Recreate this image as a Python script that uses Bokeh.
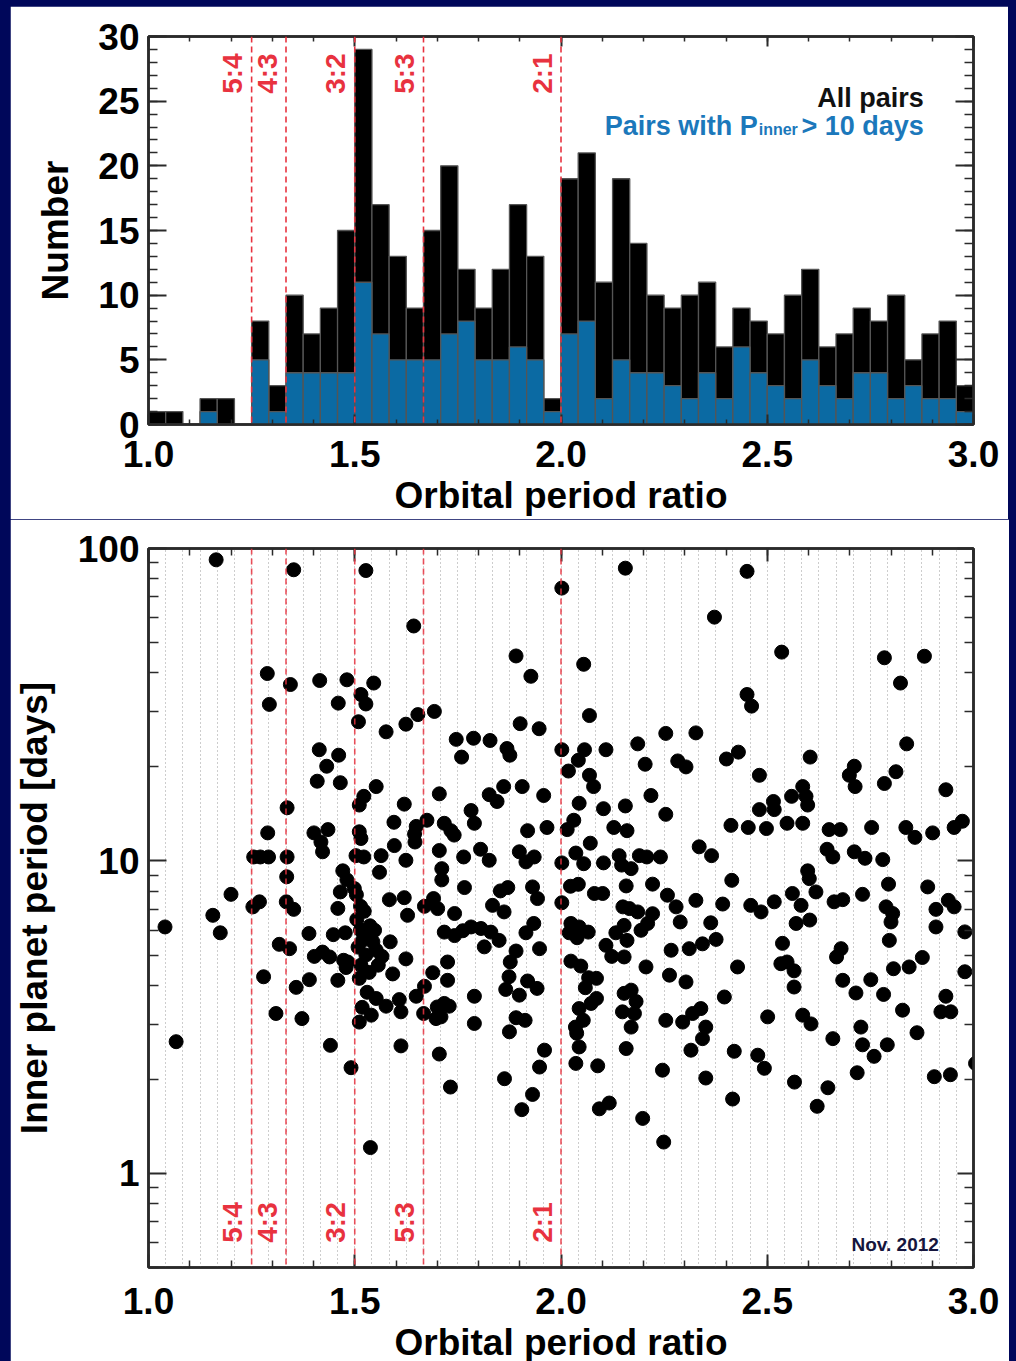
import numpy as np
from bokeh.plotting import figure
from bokeh.layouts import column
from bokeh.models import (Range1d, LinearAxis, LogAxis, SingleIntervalTicker, FixedTicker,
                          PrintfTickFormatter, BasicTickFormatter, Span)
from bokeh.core.properties import value
from bokeh.embed import file_html
from bokeh.resources import INLINE

# ---------------- data ----------------
BIN_START = 1.0
BIN_WIDTH = 1.0 / 24.0          # histogram bin width (period-ratio units)

hist_all = [1, 1, 0, 2, 2, 0, 8, 3, 10, 7, 9, 15, 29, 17, 13, 9, 15, 20, 12, 9, 12, 17, 13, 2,
            19, 21, 11, 19, 14, 10, 9, 10, 11, 6, 9, 8, 7, 10, 12, 6, 7, 9, 8, 10, 5, 7, 8, 3]
hist_long = [0, 0, 0, 1, 0, 0, 5, 1, 4, 4, 4, 4, 11, 7, 5, 5, 5, 7, 8, 5, 5, 6, 5, 1,
             7, 8, 2, 5, 4, 4, 3, 2, 4, 2, 6, 4, 3, 2, 5, 3, 2, 4, 4, 2, 3, 2, 2, 1]

resonance_ratio = [1.25, 4.0 / 3.0, 1.5, 5.0 / 3.0, 2.0]
resonance_label = ["5:4", "4:3", "3:2", "5:3", "2:1"]

y_ticks_hist = [0, 5, 10, 15, 20, 25, 30]
y_ticks_log = [1, 10, 100]
y_minor_log = [0.5, 0.6, 0.7, 0.8, 0.9, 2, 3, 4, 5, 6, 7, 8, 9, 20, 30, 40, 50, 60, 70, 80, 90]

pair_ratio = [
    1.164, 1.352, 1.527, 1.643, 1.891, 1.927, 2.002, 1.288, 1.293, 1.344, 1.415, 1.481, 1.546, 1.515,
    1.527, 1.460, 1.509, 1.576, 1.624, 1.653, 1.693, 1.901, 1.947, 1.746, 1.788, 1.828, 1.759, 1.869,
    1.876, 2.002, 1.414, 1.461, 1.432, 1.409, 1.465, 1.522, 1.552, 1.511, 1.620, 1.705, 1.826, 1.845,
    1.861, 1.906, 1.958, 1.336, 1.595, 1.675, 1.717, 1.733, 1.741, 1.782, 1.790, 1.649, 1.645, 1.646,
    1.289, 1.401, 1.435, 1.418, 1.422, 1.511, 1.515, 1.919, 1.966, 1.596, 1.705, 1.711, 1.805, 1.899,
    1.915, 1.935, 1.255, 1.271, 1.291, 1.336, 1.503, 1.522, 1.564, 1.624, 1.764, 1.826, 2.002, 1.335,
    1.471, 1.481, 1.560, 1.711,
    2.156, 2.451, 2.372, 2.535, 2.784, 2.881, 2.823, 2.055, 2.451, 2.462, 2.069, 2.254, 2.327, 2.186,
    2.838, 2.057, 2.109, 2.042, 2.018, 2.204, 2.283, 2.303, 2.401, 2.430, 2.604, 2.481, 2.069, 2.079,
    2.711, 2.699, 2.713, 2.812, 2.784, 2.933, 2.044, 2.103, 2.156, 2.218, 2.254, 2.559, 2.586, 2.594,
    2.598, 2.515, 2.517, 2.481, 2.015, 2.031, 2.128, 2.160, 2.071, 2.412, 2.454, 2.498, 2.548, 2.586,
    2.650, 2.677, 2.753, 2.836, 2.858, 2.901, 2.953, 2.973, 2.335, 2.365, 2.645, 2.659, 2.711, 2.737,
    2.780, 2.036, 2.055, 2.103, 2.141, 2.147, 2.170, 2.190, 2.208, 2.241, 2.598, 2.602, 2.414,
    1.200, 1.156, 1.174, 1.040, 1.253, 1.269, 1.334, 1.352, 1.317, 1.342, 1.279, 1.309, 1.372, 1.358,
    1.390, 1.389, 1.402, 1.422, 1.439, 1.448, 1.459, 1.465, 1.499, 1.514, 1.477, 1.483, 1.473, 1.479,
    1.459, 1.514, 1.519, 1.531, 1.544, 1.552, 1.515, 1.511, 1.557, 1.586, 1.592, 1.624, 1.584, 1.620,
    1.628, 1.552, 1.576, 1.540, 1.511, 1.608, 1.612, 1.649, 1.669, 1.667, 1.689, 1.691, 1.669, 1.701,
    1.742, 1.717, 1.742, 1.762, 1.782, 1.806, 1.830, 1.850, 1.814, 1.725, 1.725, 1.700, 1.717, 1.709,
    1.697, 1.729, 1.790, 1.790, 1.766, 1.853, 1.871, 1.834, 1.862, 1.931, 1.943, 1.934, 1.915, 1.948,
    1.891, 1.877, 1.874, 1.866, 1.899, 1.919, 1.942, 1.891, 1.913, 1.875, 1.960, 1.948, 1.863, 1.931,
    1.905, 1.067, 1.441, 1.491, 1.612, 1.705, 1.732, 1.538,
    1.505, 1.527, 1.535, 1.508, 1.523, 1.530, 1.504, 1.537, 1.518, 1.548, 1.566,
    2.002, 2.023, 2.042, 2.024, 2.044, 2.066, 2.020, 2.039, 2.081, 2.101, 2.158, 2.150, 2.166, 2.186,
    2.222, 2.222, 2.210, 2.194, 2.153, 2.133, 2.160, 2.109, 2.123, 2.153, 2.024, 2.048, 2.067, 2.086,
    2.059, 2.086, 2.073, 2.044, 2.054, 2.035, 2.038, 2.044, 2.036, 2.089, 2.153, 2.170, 2.182, 2.149,
    2.178, 2.170, 2.158, 2.206, 2.263, 2.303, 2.254, 2.295, 2.319, 2.339, 2.351, 2.343, 2.315, 2.246,
    2.351, 2.267, 2.311, 2.343, 2.376, 2.428, 2.396, 2.420, 2.477, 2.493, 2.258, 2.279, 2.289, 2.327,
    2.363, 2.392, 2.460, 2.485, 2.517, 2.561, 2.582, 2.618, 2.570, 2.603, 2.537, 2.533, 2.548, 2.565,
    2.565, 2.662, 2.683, 2.731, 2.794, 2.788, 2.804, 2.800, 2.796, 2.889, 2.909, 2.909, 2.939, 2.953,
    2.979, 2.979, 2.668, 2.679, 2.683, 2.715, 2.751, 2.782, 2.806, 2.844, 2.876, 2.828, 2.863, 2.933,
    2.921, 2.945, 2.905, 2.944, 3.005, 2.727, 2.731, 2.759, 2.791, 2.718, 2.659, 2.647, 2.621, 2.566,
    2.586, 2.606, 2.501, 2.416, 2.198, 2.249, 2.093, 2.117,
]

inner_period = [
    92.0, 85.5, 85.0, 56.5, 45.3, 39.0, 74.7, 39.8, 31.7, 36.7, 37.8, 38.0, 37.1, 34.1,
    31.8, 32.0, 27.9, 25.9, 27.4, 29.4, 30.1, 27.5, 26.5, 24.5, 24.7, 24.3, 21.5, 22.9,
    21.8, 22.7, 22.7, 21.8, 20.1, 18.0, 17.8, 16.1, 17.3, 15.1, 15.2, 16.4, 16.3, 15.5,
    17.3, 17.3, 16.2, 14.8, 13.3, 13.5, 13.2, 12.5, 12.1, 14.5, 13.2, 12.9, 12.2, 11.5,
    12.3, 12.3, 12.6, 11.5, 10.7, 12.4, 11.8, 12.5, 12.8, 11.2, 10.8, 9.45, 10.9, 10.7,
    9.93, 10.3, 10.3, 10.3, 10.3, 10.3, 10.4, 10.3, 10.4, 10.05, 10.3, 10.05, 9.86, 8.9,
    9.3, 8.7, 9.2, 8.7,
    86.5, 84.5, 60.3, 46.6, 44.7, 45.2, 37.1, 42.6, 34.1, 31.3, 29.2, 25.6, 25.7, 23.7,
    23.7, 22.7, 22.7, 21.0, 19.4, 20.4, 20.9, 20.0, 21.2, 22.3, 21.5, 18.8, 18.8, 17.3,
    20.1, 18.8, 17.3, 19.3, 17.7, 16.9, 15.3, 14.7, 15.0, 16.2, 14.1, 16.1, 17.3, 16.1,
    15.1, 15.5, 14.6, 14.6, 12.6, 13.5, 12.8, 12.5, 11.4, 13.0, 12.8, 12.7, 13.2, 13.2,
    12.6, 12.6, 12.8, 12.8, 11.9, 12.3, 12.8, 13.4, 11.1, 10.4, 10.9, 10.3, 10.7, 10.2,
    10.1, 10.6, 9.8, 9.86, 10.4, 9.7, 9.45, 10.4, 10.3, 10.3, 9.3, 8.78, 8.67,
    7.82, 6.70, 5.89, 6.15, 7.13, 7.40, 7.40, 7.00, 5.41, 5.24, 4.26, 3.25, 3.13, 3.94,
    4.17, 5.86, 4.95, 5.11, 4.93, 5.81, 7.05, 7.96, 8.16, 7.16, 5.89, 4.75, 4.81, 4.56,
    4.15, 6.01, 5.57, 5.79, 5.51, 5.18, 4.64, 4.21, 4.64, 5.51, 4.35, 4.86, 7.52, 7.63,
    6.70, 3.63, 3.43, 3.21, 3.05, 3.60, 3.29, 3.69, 3.97, 3.25, 4.39, 7.58, 7.16, 7.04,
    6.79, 5.92, 5.77, 5.98, 6.15, 6.08, 5.92, 5.57, 5.31, 4.75, 4.15, 3.41, 3.50, 3.17,
    3.13, 3.43, 3.69, 3.02, 8.22, 8.02, 8.22, 7.21, 6.87, 8.26, 7.58, 6.31, 5.89, 5.24,
    5.15, 4.75, 4.26, 3.88, 3.72, 4.13, 3.91, 3.15, 3.09, 2.84, 2.48, 2.19, 2.01, 1.79,
    1.60, 2.64, 2.57, 2.18, 2.56, 2.41, 1.89, 1.21,
    6.5, 5.0, 4.4, 5.3, 6.9, 3.8, 7.8, 6.2, 3.4, 6.0, 4.95,
    7.35, 8.30, 8.42, 6.31, 6.15, 5.92, 5.89, 5.68, 7.87, 7.87, 8.32, 7.13, 7.04, 6.87,
    8.43, 6.78, 6.31, 6.00, 6.22, 5.89, 5.57, 5.37, 4.95, 4.93, 4.78, 4.61, 4.23, 4.21,
    3.93, 3.63, 3.50, 3.37, 3.09, 2.94, 2.81, 2.54, 2.25, 2.21, 3.77, 3.86, 3.55, 3.29,
    3.25, 2.94, 2.51, 4.58, 4.31, 4.10, 3.09, 3.05, 3.25, 3.37, 2.94, 2.70, 2.48, 2.14,
    2.02, 5.18, 5.24, 5.43, 5.61, 4.58, 3.67, 2.46, 2.39, 2.17, 7.77, 7.13, 6.38, 7.48,
    6.34, 7.28, 7.21, 6.87, 7.40, 7.87, 7.21, 7.96, 6.31, 6.47, 5.45, 4.69, 4.75, 4.45,
    3.95, 7.40, 7.52, 7.82, 8.43, 7.13, 6.79, 6.38, 5.57, 8.26, 7.00, 6.15, 7.48, 7.13,
    5.93, 4.42, 4.93, 5.24, 4.15, 3.78, 4.17, 3.74, 4.52, 4.58, 4.91, 3.33, 2.82, 3.69,
    3.29, 3.29, 2.04, 2.07, 2.25, 2.94, 2.58, 2.37, 2.58, 2.10, 2.70, 1.88, 1.64, 1.96,
    3.21, 3.01, 3.17, 1.73, 1.50, 1.26, 1.61, 1.68,
]

# ---------------- styles ----------------
NAVY = "#00075a"
RED = "#e8323f"
BAR_BLUE = "#0b6aa3"
TXT_BLUE = "#1b78bb"
AXCOL = "#2a2a2a"
FONT = "Liberation Sans"
AX_SIZE = "37px"
LABEL_GAP = 0.046   # distance from a resonance line to its label centre, in ratio units


def style_axis(ax, major_in, minor_in, show_labels=True):
    ax.axis_line_color = AXCOL
    ax.axis_line_width = 2.5
    ax.major_tick_in = major_in
    ax.major_tick_out = 0
    ax.minor_tick_in = minor_in
    ax.minor_tick_out = 0
    ax.major_tick_line_color = AXCOL
    ax.major_tick_line_width = 2
    ax.minor_tick_line_color = AXCOL
    ax.minor_tick_line_width = 1.5
    ax.major_label_text_font = FONT
    ax.major_label_text_font_style = "bold"
    ax.major_label_text_font_size = AX_SIZE if show_labels else "8px"
    ax.major_label_text_color = "black" if show_labels else None
    ax.axis_label_text_font = FONT
    ax.axis_label_text_font_style = "bold"
    ax.axis_label_text_font_size = AX_SIZE
    ax.axis_label_text_color = "black"


label_x = [r - LABEL_GAP for r in resonance_ratio]

# ---------------- top: histogram ----------------
p1 = figure(x_range=Range1d(1.0, 3.0), y_range=Range1d(0, 30),
            frame_width=825, frame_height=388,
            min_border_left=137, min_border_right=36, min_border_top=30, min_border_bottom=95,
            output_backend="svg", toolbar_location=None,
            background_fill_color="white", border_fill_color="white",
            outline_line_color=AXCOL, outline_line_width=2.5)
p1.grid.visible = False

p1.xaxis.ticker = SingleIntervalTicker(interval=0.5, num_minor_ticks=5)
p1.yaxis.ticker = FixedTicker(ticks=y_ticks_hist, minor_ticks=list(range(0, 31)))
p1.xaxis.formatter = PrintfTickFormatter(format="%.1f")
style_axis(p1.xaxis[0], 10, 5)
style_axis(p1.yaxis[0], 18, 9)
p1.xaxis.major_label_standoff = 16
p1.yaxis.major_label_standoff = 9
p1.xaxis.axis_label = "Orbital period ratio"
p1.xaxis.axis_label_standoff = 5
p1.yaxis.axis_label = "Number"
p1.yaxis.axis_label_standoff = 19

ax_top = LinearAxis(ticker=SingleIntervalTicker(interval=0.5, num_minor_ticks=5))
style_axis(ax_top, 10, 5, show_labels=False)
ax_top.major_label_standoff = 0
p1.add_layout(ax_top, "above")
ax_r1 = LinearAxis(ticker=FixedTicker(ticks=y_ticks_hist, minor_ticks=list(range(0, 31))))
style_axis(ax_r1, 18, 9, show_labels=False)
ax_r1.major_label_standoff = 0
p1.add_layout(ax_r1, "right")

centers = BIN_START + (np.arange(len(hist_all)) + 0.5) * BIN_WIDTH
p1.vbar(x=centers, width=BIN_WIDTH, top=hist_all, bottom=0,
        fill_color="black", line_color="#555555", line_width=1.3)
p1.vbar(x=centers, width=BIN_WIDTH, top=hist_long, bottom=0,
        fill_color=BAR_BLUE, line_color="#555555", line_width=1.3)

for r in resonance_ratio:
    p1.add_layout(Span(location=r, dimension="height", line_color=RED,
                       line_dash="6 4", line_width=1.6))
p1.text(x=label_x, y=[28.7] * len(resonance_ratio), text=resonance_label,
        angle=np.pi / 2, text_align="right", text_baseline="middle",
        text_color=RED, text_font=value(FONT), text_font_size="28px", text_font_style="bold")

p1.text(x=[2.8796], y=[25.26], text=["All pairs"], text_align="right",
        text_baseline="alphabetic", text_color="#111111", text_font=value(FONT),
        text_font_size="27px", text_font_style="bold")
p1.text(x=[2.8796], y=[23.09], text=["> 10 days"], text_align="right",
        text_baseline="alphabetic", text_color=TXT_BLUE, text_font=value(FONT),
        text_font_size="27px", text_font_style="bold")
p1.text(x=[2.8796], y=[22.78], text=["inner"], text_align="right", x_offset=-126,
        text_baseline="alphabetic", text_color=TXT_BLUE, text_font=value(FONT),
        text_font_size="16px", text_font_style="bold")
p1.text(x=[2.8796], y=[23.09], text=["Pairs with P"], text_align="right", x_offset=-166,
        text_baseline="alphabetic", text_color=TXT_BLUE, text_font=value(FONT),
        text_font_size="27px", text_font_style="bold")

# ---------------- bottom: scatter ----------------
p2 = figure(x_range=Range1d(1.0, 3.0), y_range=Range1d(0.5, 100), y_axis_type="log",
            frame_width=825, frame_height=719,
            min_border_left=137, min_border_right=36, min_border_top=29, min_border_bottom=94,
            output_backend="svg", toolbar_location=None,
            background_fill_color="white", border_fill_color="white",
            outline_line_color=AXCOL, outline_line_width=2.5)

bin_edges = BIN_START + np.arange(len(hist_all) + 1) * BIN_WIDTH
p2.xgrid.ticker = FixedTicker(ticks=list(bin_edges))
p2.xgrid.grid_line_color = "#9a9a9a"
p2.xgrid.grid_line_dash = "1 3"
p2.xgrid.grid_line_width = 1
p2.ygrid.visible = False

p2.xaxis.ticker = SingleIntervalTicker(interval=0.5, num_minor_ticks=5)
p2.xaxis.formatter = PrintfTickFormatter(format="%.1f")
p2.yaxis.ticker = FixedTicker(ticks=y_ticks_log, minor_ticks=y_minor_log)
p2.yaxis.formatter = BasicTickFormatter()
style_axis(p2.xaxis[0], 13, 7)
style_axis(p2.yaxis[0], 18, 10)
p2.xaxis.major_label_standoff = 20
p2.yaxis.major_label_standoff = 9
p2.xaxis.axis_label = "Orbital period ratio"
p2.xaxis.axis_label_standoff = 5
p2.yaxis.axis_label = "Inner planet period [days]"
p2.yaxis.axis_label_standoff = 20

ax_top2 = LinearAxis(ticker=SingleIntervalTicker(interval=0.5, num_minor_ticks=5))
style_axis(ax_top2, 13, 7, show_labels=False)
ax_top2.major_label_standoff = 0
p2.add_layout(ax_top2, "above")
ax_r2 = LogAxis(ticker=FixedTicker(ticks=y_ticks_log, minor_ticks=y_minor_log))
style_axis(ax_r2, 16, 9, show_labels=False)
ax_r2.major_label_standoff = 0
p2.add_layout(ax_r2, "right")

for r in resonance_ratio:
    p2.add_layout(Span(location=r, dimension="height", line_color=RED, line_alpha=0.85,
                       line_dash="6 4", line_width=1.6))

p2.scatter(x=pair_ratio, y=inner_period, size=14, fill_color="black",
           line_color="black", line_width=1)

p2.text(x=label_x, y=[0.6] * len(resonance_ratio), text=resonance_label,
        angle=np.pi / 2, text_align="left", text_baseline="middle",
        text_color=RED, text_font=value(FONT), text_font_size="28px", text_font_style="bold")
p2.text(x=[2.916], y=[0.594], text=["Nov. 2012"], text_align="right",
        text_baseline="alphabetic", text_color="#15153d", text_font=value(FONT),
        text_font_size="19px", text_font_style="bold")

p1.margin = (6, 8, 0, 10)
p2.margin = (0, 8, 0, 10)
layout = column(p1, p2, spacing=0, styles={"background-color": NAVY})

open("out.html", "w").write(file_html(layout, INLINE))
